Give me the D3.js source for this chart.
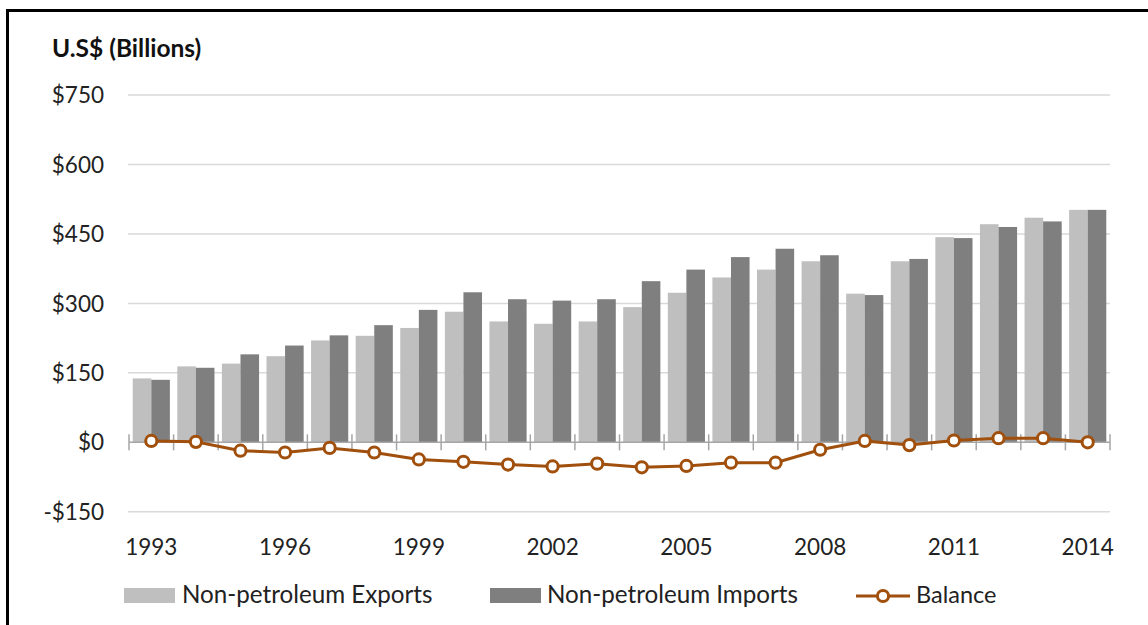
<!DOCTYPE html>
<html>
<head>
<meta charset="utf-8">
<script src="https://cdn.jsdelivr.net/npm/d3@7"></script>
<style>
  body { margin: 0; background: #fff; }
  svg { display: block; font-family: Lato, "Open Sans", sans-serif; }
</style>
</head>
<body>
<svg id="canvas" width="1148" height="625"></svg>
<script>
let years = ['1993','1994','1995','1996','1997','1998','1999','2000','2001','2002','2003',
             '2004','2005','2006','2007','2008','2009','2010','2011','2012','2013','2014']
let exportsData = [138,164,170,186,220,230,247,282,261,256,261,292,323,356,373,391,321,391,443,471,485,502]
let importsData = [135,161,190,209,231,253,286,324,309,306,309,348,373,400,418,404,318,396,441,465,477,502]
let balanceData = [3,1,-18,-22,-12,-22,-37,-42,-48,-52,-46,-54,-51,-44,-44,-16,3,-6,4,9,9,0]
let yTicks = [-150,0,150,300,450,600,750]
let xLabels = ['1993','1996','1999','2002','2005','2008','2011','2014']
let seriesNames = ['Non-petroleum Exports','Non-petroleum Imports','Balance']

let canvas = d3.select('#canvas')
let lineColor = '#a04f0c'

// frame (only top and left edges are visible in the picture)
canvas.append('path')
      .attr('d', 'M7.5,625 V10.5 H1148')
      .attr('fill', 'none')
      .attr('stroke', '#000')
      .attr('stroke-width', 3)

let x = d3.scaleBand().domain(years).range([129, 1110])
let bw = x.bandwidth()
let x1 = d3.scaleBand().domain(['exp','imp']).range([0, bw]).paddingOuter(0.2)
let y = d3.scaleLinear().domain([-150, 750]).range([511.8, 95])

// title
canvas.append('text')
      .attr('x', 52).attr('y', 57)
      .attr('font-size', 24.5).attr('font-weight', 'bold')
      .attr('fill', '#111')
      .text('U.S$ (Billions)')

// gridlines
canvas.append('g')
      .selectAll('line')
      .data(yTicks.filter(t => t !== 0))
      .enter()
      .append('line')
      .attr('x1', 128).attr('x2', 1110)
      .attr('y1', d => y(d)).attr('y2', d => y(d))
      .attr('stroke', '#d9d9d9').attr('stroke-width', 1.5)

// y labels
canvas.append('g')
      .selectAll('text')
      .data(yTicks)
      .enter()
      .append('text')
      .attr('x', 104)
      .attr('y', d => y(d))
      .attr('dy', '0.36em')
      .attr('text-anchor', 'end')
      .attr('font-size', 22.5)
      .attr('fill', '#222')
      .text(d => (d < 0 ? '-$' : '$') + Math.abs(d))

// bars
let groups = canvas.append('g')
      .selectAll('g')
      .data(years)
      .enter()
      .append('g')
      .attr('transform', d => 'translate(' + x(d) + ',0)')

groups.append('rect')
      .attr('x', x1('exp'))
      .attr('width', x1.bandwidth())
      .attr('y', (d, i) => y(exportsData[i]))
      .attr('height', (d, i) => y(0) - y(exportsData[i]))
      .attr('fill', '#bfbfbf')

groups.append('rect')
      .attr('x', x1('imp'))
      .attr('width', x1.bandwidth())
      .attr('y', (d, i) => y(importsData[i]))
      .attr('height', (d, i) => y(0) - y(importsData[i]))
      .attr('fill', '#7f7f7f')

// zero axis with crossing ticks
let axis = canvas.append('g').attr('stroke', '#a6a6a6').attr('stroke-width', 1.5)
axis.append('line')
    .attr('x1', 129).attr('x2', 1110)
    .attr('y1', y(0)).attr('y2', y(0))
axis.selectAll('.tick')
    .data(years.concat(['end']))
    .enter()
    .append('line')
    .attr('class', 'tick')
    .attr('x1', d => d === 'end' ? 1110 : x(d))
    .attr('x2', d => d === 'end' ? 1110 : x(d))
    .attr('y1', y(0) - 8).attr('y2', y(0) + 8)

// x labels
canvas.append('g')
      .selectAll('text')
      .data(xLabels)
      .enter()
      .append('text')
      .attr('x', d => x(d) + bw / 2)
      .attr('y', 555)
      .attr('text-anchor', 'middle')
      .attr('font-size', 22.5)
      .attr('fill', '#222')
      .text(d => d)

// balance line
let line = d3.line()
      .x((d, i) => x(years[i]) + bw / 2)
      .y(d => y(d))

canvas.append('path')
      .datum(balanceData)
      .attr('d', line)
      .attr('fill', 'none')
      .attr('stroke', lineColor)
      .attr('stroke-width', 3)

canvas.append('g')
      .selectAll('circle')
      .data(balanceData)
      .enter()
      .append('circle')
      .attr('cx', (d, i) => x(years[i]) + bw / 2)
      .attr('cy', d => y(d))
      .attr('r', 5.6)
      .attr('fill', '#fff')
      .attr('stroke', lineColor)
      .attr('stroke-width', 3)

// legend
let legend = canvas.append('g')
let legendY = 596
legend.append('rect').attr('x', 124).attr('y', 588).attr('width', 51).attr('height', 15).attr('fill', '#bfbfbf')
legend.append('text').attr('x', 182).attr('y', 603).attr('font-size', 24.2).attr('fill', '#222').text(seriesNames[0])
legend.append('rect').attr('x', 490).attr('y', 588).attr('width', 51).attr('height', 15).attr('fill', '#7f7f7f')
legend.append('text').attr('x', 547).attr('y', 603).attr('font-size', 24.2).attr('fill', '#222').text(seriesNames[1])
legend.append('line').attr('x1', 856).attr('x2', 910).attr('y1', legendY).attr('y2', legendY)
      .attr('stroke', lineColor).attr('stroke-width', 3)
legend.append('circle').attr('cx', 883).attr('cy', legendY).attr('r', 5.6)
      .attr('fill', '#fff').attr('stroke', lineColor).attr('stroke-width', 3)
legend.append('text').attr('x', 916).attr('y', 603).attr('font-size', 23.5).attr('fill', '#222').text(seriesNames[2])
</script>
</body>
</html>
